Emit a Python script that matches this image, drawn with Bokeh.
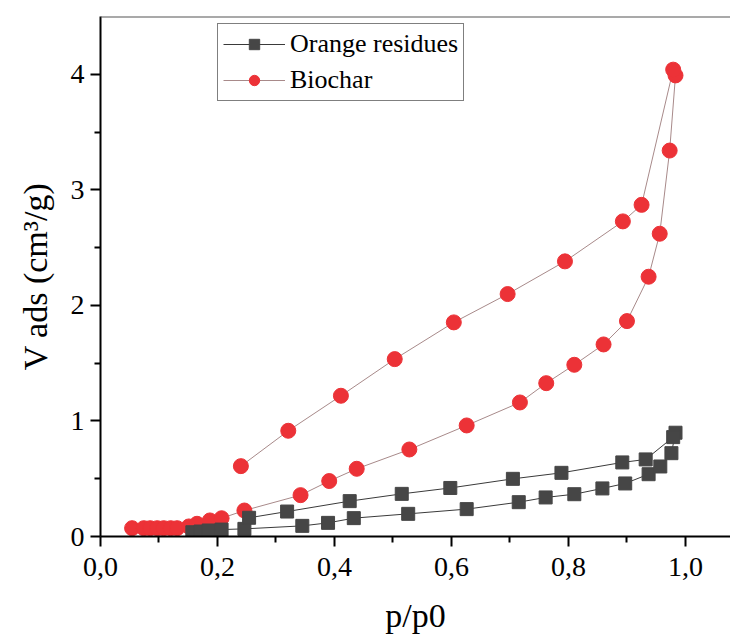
from bokeh.plotting import figure
from bokeh.models import (Range1d, FixedTicker, CustomJSTickFormatter, Legend, LegendItem, Span)
from bokeh.embed import file_html
from bokeh.resources import INLINE

# Orange residues isotherm (adsorption then desorption branch)
orange_ads_x = [0.157, 0.171, 0.185, 0.207, 0.246, 0.345, 0.389, 0.433, 0.526, 0.626,
                0.715, 0.761, 0.810, 0.858, 0.897, 0.937, 0.957, 0.976, 0.983]
orange_ads_y = [0.037, 0.043, 0.052, 0.060, 0.066, 0.092, 0.118, 0.159, 0.196, 0.237,
                0.297, 0.338, 0.366, 0.416, 0.459, 0.539, 0.606, 0.721, 0.898]
orange_des_x = [0.979, 0.932, 0.892, 0.788, 0.705, 0.598, 0.515, 0.426, 0.319, 0.254]
orange_des_y = [0.860, 0.667, 0.641, 0.551, 0.499, 0.420, 0.369, 0.306, 0.216, 0.162]

# Biochar isotherm (adsorption then desorption branch)
biochar_ads_x = [0.054, 0.074, 0.085, 0.097, 0.108, 0.120, 0.131, 0.151, 0.165, 0.187,
                 0.207, 0.246, 0.342, 0.391, 0.438, 0.528, 0.626, 0.717, 0.762, 0.810,
                 0.860, 0.900, 0.937, 0.956, 0.973, 0.983]
biochar_ads_y = [0.072, 0.072, 0.072, 0.072, 0.072, 0.072, 0.072, 0.087, 0.110, 0.139,
                 0.158, 0.225, 0.358, 0.480, 0.586, 0.753, 0.961, 1.160, 1.327, 1.486,
                 1.662, 1.864, 2.248, 2.620, 3.340, 3.990]
biochar_des_x = [0.979, 0.925, 0.893, 0.794, 0.696, 0.604, 0.503, 0.411, 0.321, 0.240]
biochar_des_y = [4.040, 2.870, 2.727, 2.381, 2.098, 1.853, 1.535, 1.218, 0.915, 0.609]

series_names = ["Orange residues", "Biochar"]
x_ticks = [0.0, 0.2, 0.4, 0.6, 0.8, 1.0]
y_ticks = [0, 1, 2, 3, 4]

SERIF = "Liberation Serif"

p = figure(width=730, height=636, output_backend="svg", toolbar_location=None,
           x_range=Range1d(0, 1.077), y_range=Range1d(0, 4.5),
           min_border_left=100, min_border_top=16, min_border_bottom=100, min_border_right=0)
p.outline_line_color = None
p.grid.visible = False
p.background_fill_color = "white"

bx = biochar_ads_x + biochar_des_x
by = biochar_ads_y + biochar_des_y
ox = orange_ads_x + orange_des_x
oy = orange_ads_y + orange_des_y

bl = p.line(bx, by, line_color="#a88a8a", line_width=1)
bs = p.scatter(bx, by, marker="circle", size=15, fill_color="#ec3237", line_color="#ec3237")
ol = p.line(ox, oy, line_color="#3a3a3a", line_width=1)
os_ = p.scatter(ox, oy, marker="square", size=13, fill_color="#464646", line_color="#464646")

legend = Legend(items=[LegendItem(label=series_names[0], renderers=[ol, os_]),
                       LegendItem(label=series_names[1], renderers=[bl, bs])],
                location=(117, 435))
legend.label_text_font = SERIF
legend.label_text_font_size = "26px"
legend.label_text_color = "black"
legend.glyph_width = 62
legend.glyph_height = 26
legend.label_height = 26
legend.label_standoff = 5
legend.spacing = 6
legend.padding = 5
legend.margin = 0
legend.border_line_color = "black"
legend.border_line_width = 1
legend.background_fill_alpha = 1
p.add_layout(legend)

top_line = Span(location=4.5, dimension="width", line_color="#555555", line_width=2)
p.add_layout(top_line)

p.xaxis.ticker = FixedTicker(ticks=x_ticks, minor_ticks=[0.1, 0.3, 0.5, 0.7, 0.9])
p.yaxis.ticker = FixedTicker(ticks=y_ticks, minor_ticks=[0.5, 1.5, 2.5, 3.5])
p.xaxis.formatter = CustomJSTickFormatter(code="return tick.toFixed(1).replace('.', ',');")
p.yaxis.formatter = CustomJSTickFormatter(code="return tick.toFixed(0);")

for ax in (p.xaxis, p.yaxis):
    ax.axis_line_color = "black"
    ax.axis_line_width = 2
    ax.major_tick_line_color = "black"
    ax.major_tick_line_width = 2
    ax.minor_tick_line_color = "black"
    ax.minor_tick_line_width = 2
    ax.major_tick_out = 10
    ax.major_tick_in = 0
    ax.minor_tick_out = 6
    ax.minor_tick_in = 0
    ax.major_label_text_font = SERIF
    ax.major_label_text_font_size = "28px"
    ax.major_label_text_color = "black"
    ax.axis_label_text_font = SERIF
    ax.axis_label_text_font_size = "34px"
    ax.axis_label_text_font_style = "normal"
    ax.axis_label_text_color = "black"

p.xaxis.axis_label = "p/p0"
p.xaxis.major_label_standoff = 11
p.xaxis.axis_label_standoff = 18
p.yaxis.axis_label = "V ads (cm³/g)"
p.yaxis.major_label_standoff = 6
p.yaxis.axis_label_standoff = 14

open("out.html", "w").write(file_html(p, INLINE))
